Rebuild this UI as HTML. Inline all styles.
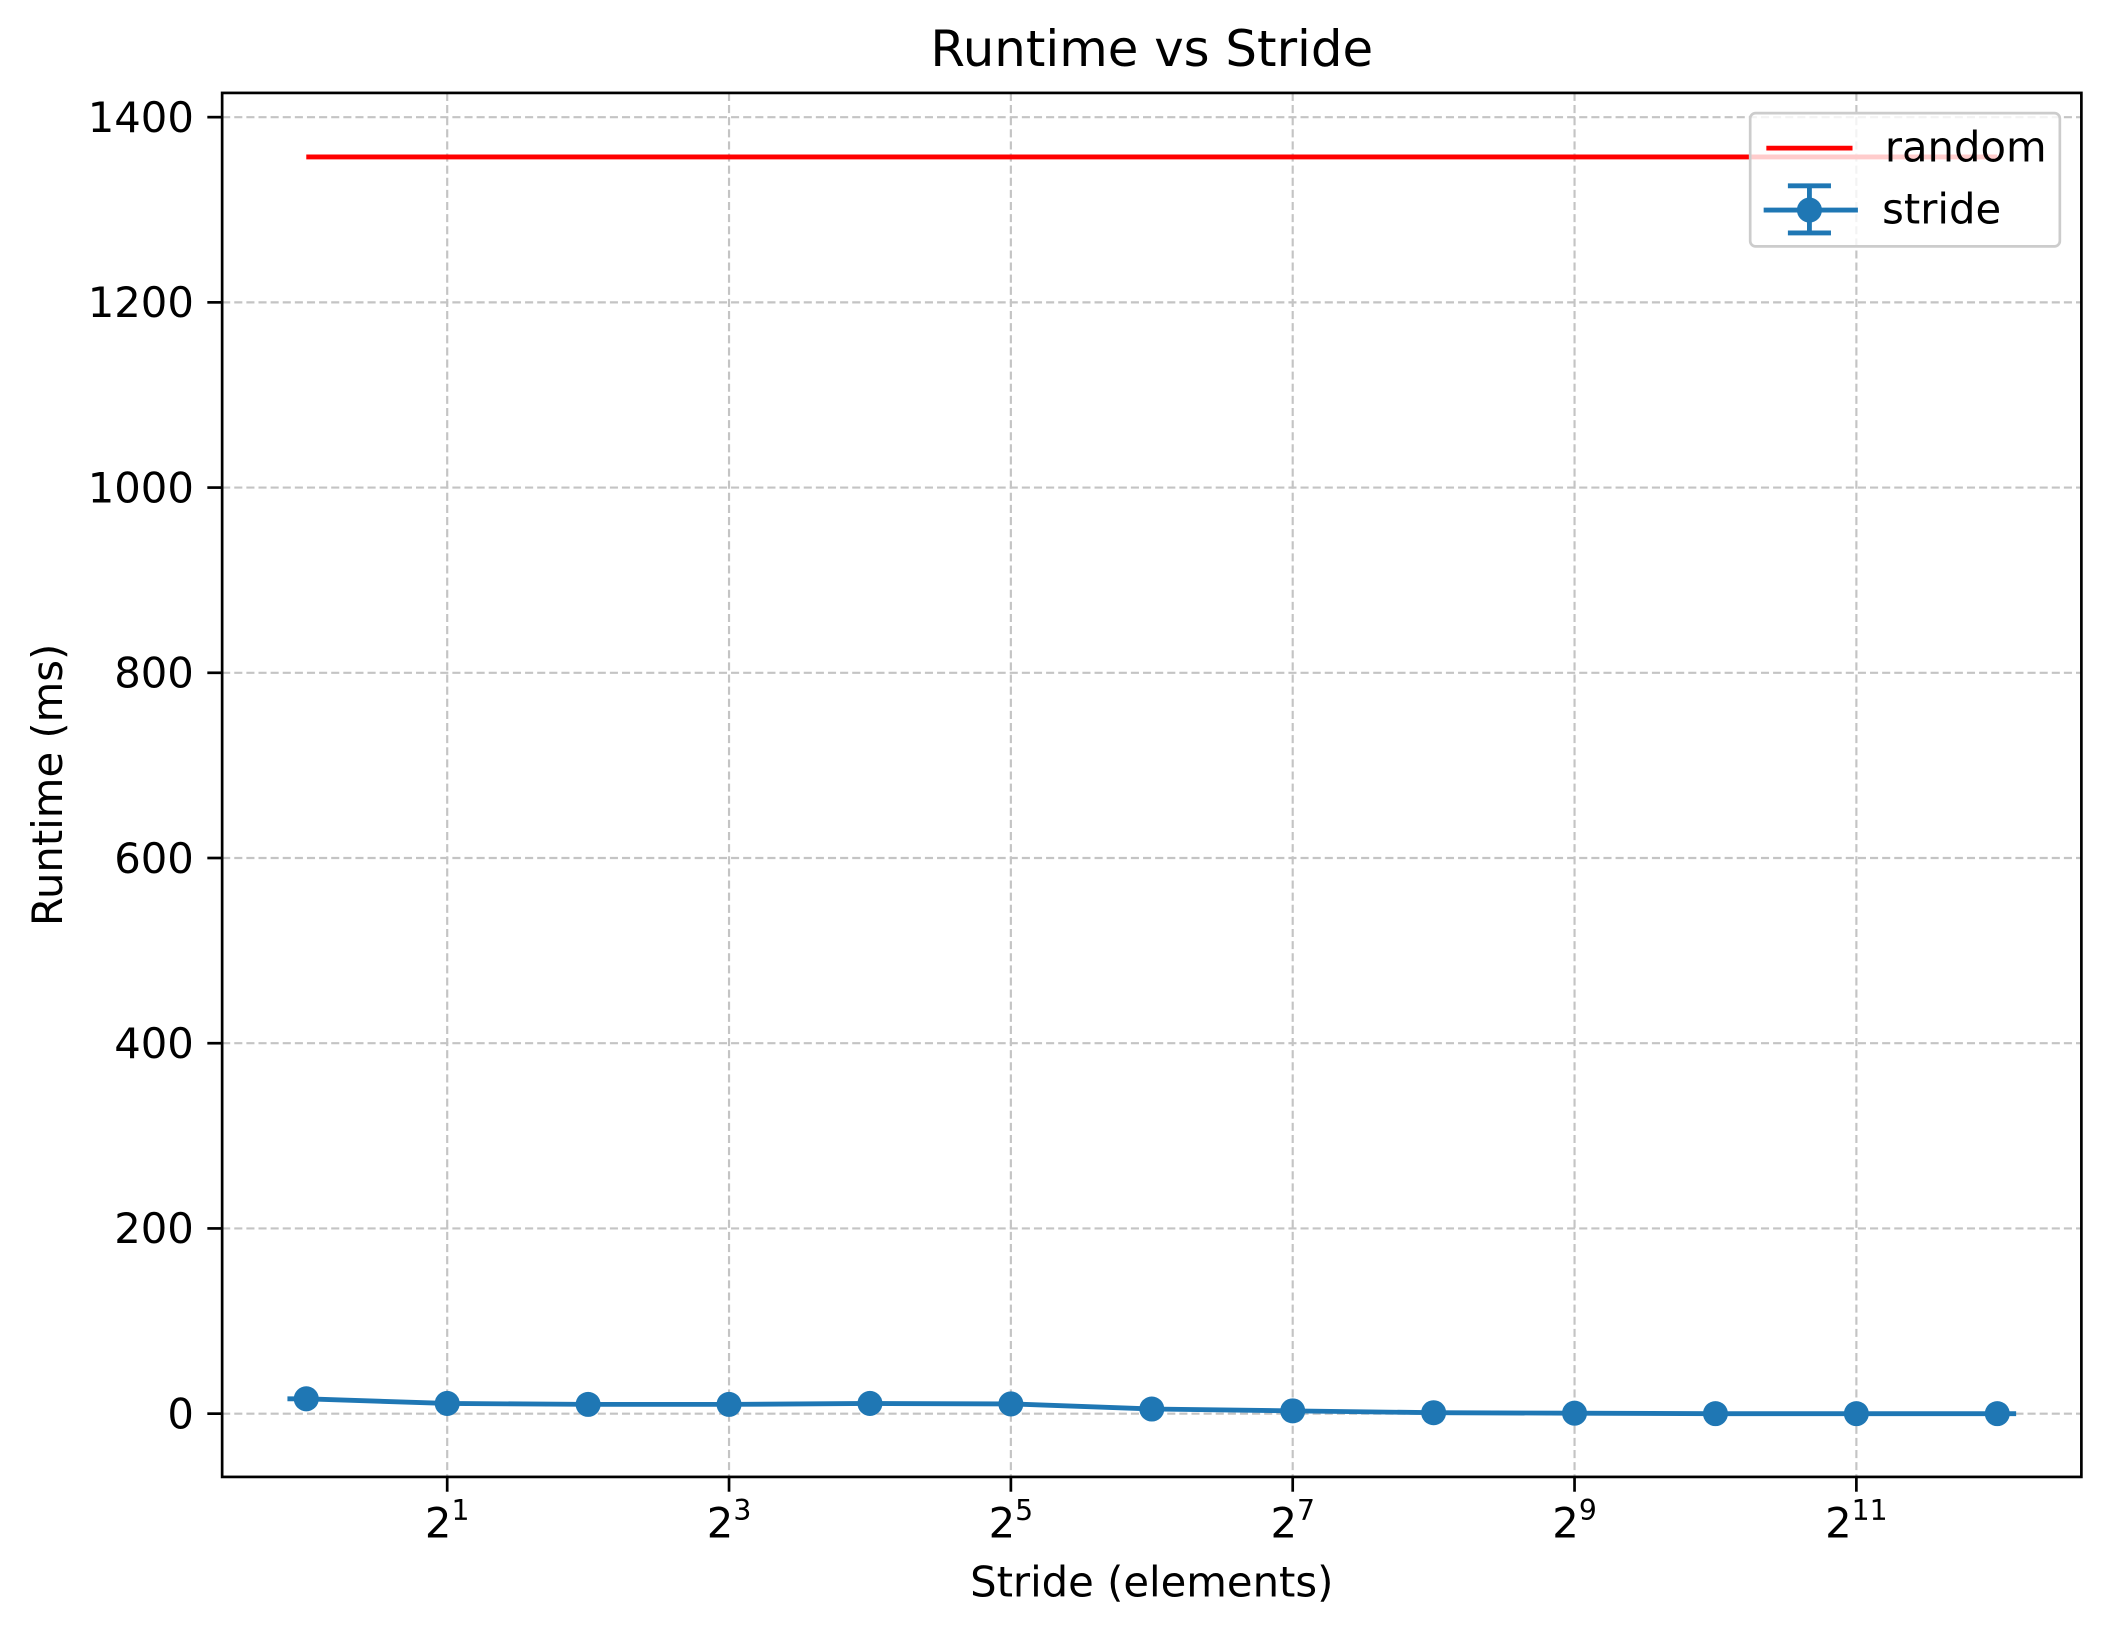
<!DOCTYPE html>
<html><head><meta charset="utf-8"><style>
html,body{margin:0;padding:0;background:#fff}
svg{display:block;font-family:"DejaVu Sans","Liberation Sans",sans-serif}
</style></head><body>
<svg id="chart" width="2111" height="1635" viewBox="0 0 1568 1214.4" xmlns="http://www.w3.org/2000/svg">
<rect width="1568" height="1214.4" fill="#fff"/>
<g id="grid"></g>
<g id="series"></g>
<rect x="165" y="69" width="1381" height="1028" fill="none" stroke="#000" stroke-width="2"/>
<g id="ticks"></g>
<text x="855.5" y="49" font-size="37" text-anchor="middle">Runtime vs Stride</text>
<text x="855.5" y="1186" font-size="31" text-anchor="middle">Stride (elements)</text>
<text transform="translate(46,583) rotate(-90)" font-size="31" text-anchor="middle">Runtime (ms)</text>
<g>
<rect x="1300" y="84" width="230" height="99" rx="4" fill="#fff" fill-opacity="0.8" stroke="#ccc" stroke-width="2"/>
<g>
<line x1="1312" y1="110" x2="1376" y2="110" stroke="#ff0000" stroke-width="3.6"/>
<text x="1400" y="120" font-size="31">random</text></g>
<g>
<line x1="1310" y1="156" x2="1380" y2="156" stroke="#1f77b4" stroke-width="3.6"/>
<line x1="1344" y1="138" x2="1344" y2="173" stroke="#1f77b4" stroke-width="3.6"/>
<line x1="1328" y1="138" x2="1360" y2="138" stroke="#1f77b4" stroke-width="3.6"/>
<line x1="1328" y1="173" x2="1360" y2="173" stroke="#1f77b4" stroke-width="3.6"/>
<circle cx="1344" cy="156" r="9.3" fill="#1f77b4"/>
<text x="1398" y="166" font-size="31">stride</text></g>
</g>
</svg>
<script>
const exponents = [0,1,2,3,4,5,6,7,8,9,10,11,12];
const strideRuntime = [16,11,10,10,11,10.5,5,3,1,0.5,0,0,0];
const randomRuntime = 1357;
const yTicks = [0,200,400,600,800,1000,1200,1400];
const xTickExps = [1,3,5,7,9,11];
const NS='http://www.w3.org/2000/svg';
function X(e){return 227.5+e*104.67;}
function Y(v){return 1050-v*(963/1400);}
function mk(tag,attrs,parent){const el=document.createElementNS(NS,tag);for(const k in attrs)el.setAttribute(k,attrs[k]);parent.appendChild(el);return el;}
const grid=document.getElementById('grid'),ticks=document.getElementById('ticks'),series=document.getElementById('series');
yTicks.forEach(v=>{
  const g=mk('line',{x1:165,x2:1546,y1:Y(v),y2:Y(v),stroke:'#c4c4c4','stroke-width':1.6,'stroke-dasharray':'6,3'},grid);
  
  
  const t=mk('line',{x1:154,x2:165,y1:Y(v),y2:Y(v),stroke:'#000','stroke-width':2},ticks);
  
  
  const l=mk('text',{x:144,y:Y(v)+11,'font-size':31,'text-anchor':'end'},ticks);
  l.textContent=v;
  
  
});
xTickExps.forEach(e=>{
  const g=mk('line',{x1:X(e),x2:X(e),y1:69,y2:1097,stroke:'#c4c4c4','stroke-width':1.6,'stroke-dasharray':'6,3'},grid);
  
  
  const t=mk('line',{x1:X(e),x2:X(e),y1:1097,y2:1108,stroke:'#000','stroke-width':2},ticks);
  
  
  const l=mk('text',{x:X(e),y:1142,'font-size':31,'text-anchor':'middle'},ticks);
  
  
  l.textContent='2';
  const s=mk('tspan',{'font-size':21,dy:-13},l);
  s.textContent=String(e);
});
const r=mk('line',{x1:X(exponents[0]),x2:X(exponents[exponents.length-1]),y1:Y(randomRuntime),y2:Y(randomRuntime),stroke:'#ff0000','stroke-width':3.6},series);


const pts=exponents.map((e,i)=>X(e)+','+Y(strideRuntime[i]));
const p=mk('polyline',{points:pts.join(' '),fill:'none',stroke:'#1f77b4','stroke-width':3.6},series);


const n=exponents.length-1;
const s1=mk('line',{x1:X(exponents[0])-14,x2:X(exponents[0]),y1:Y(strideRuntime[0]),y2:Y(strideRuntime[0]),stroke:'#1f77b4','stroke-width':3.6},series);


const s2=mk('line',{x1:X(exponents[n]),x2:X(exponents[n])+14,y1:Y(strideRuntime[n]),y2:Y(strideRuntime[n]),stroke:'#1f77b4','stroke-width':3.6},series);


exponents.forEach((e,i)=>{
  const c=mk('circle',{cx:X(e),cy:Y(strideRuntime[i]),r:9.3,fill:'#1f77b4'},series);
  
  
});
</script>
</body></html>
